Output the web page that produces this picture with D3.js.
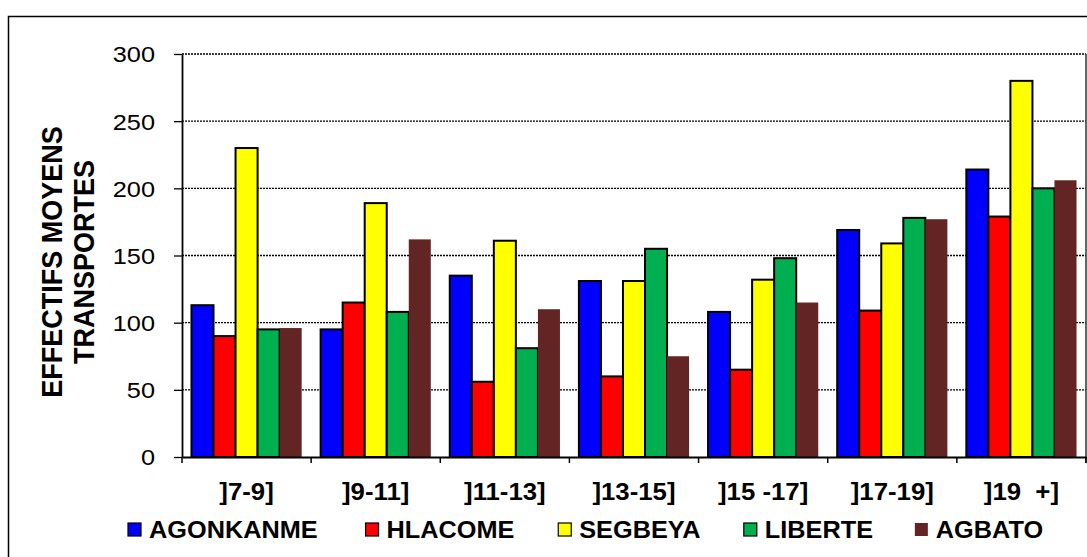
<!DOCTYPE html>
<html>
<head>
<meta charset="utf-8">
<script src="https://cdn.jsdelivr.net/npm/d3@7"></script>
<style>
  html, body { margin: 0; padding: 0; background: #fff; }
  svg { display: block; }
  text { font-family: "Liberation Sans", Arial, sans-serif; fill: #000; }
</style>
</head>
<body>
<svg id="chart" width="1087" height="557"></svg>
<script>
// ---- data ----
const categories = ["]7-9]", "]9-11]", "]11-13]", "]13-15]", "]15 -17]", "]17-19]", "]19  +]"];
const seriesNames = ["AGONKANME", "HLACOME", "SEGBEYA", "LIBERTE", "AGBATO"];
const agonkanme = [113, 95, 135, 131, 108, 169, 214];
const hlacome   = [90, 115, 56, 60, 65, 109, 179];
const segbeya   = [230, 189, 161, 131, 132, 159, 280];
const liberte   = [95, 108, 81, 155, 148, 178, 200];
const agbato    = [96, 162, 110, 75, 115, 177, 206];
const yTicks = [0, 50, 100, 150, 200, 250, 300];
const yTitleLines = ["EFFECTIFS MOYENS", "TRANSPORTES"];
const seriesColors = ["#0000FF", "#FF0000", "#FFFF00", "#00B050", "#632523"];
const seriesStrokes = ["#000", "#000", "#000", "#000", "none"];

const seriesValues = [agonkanme, hlacome, segbeya, liberte, agbato];
const table = categories.map((c, i) => ({
  cat: c,
  vals: seriesNames.map((s, j) => ({ key: s, j, v: seriesValues[j][i] }))
}));

// ---- layout ----
const svg = d3.select("#chart");
const plot = { left: 182, right: 1086, top: 54, bottom: 457 };

function stretch(sel, k) {
  sel.each(function () {
    const w = this.getComputedTextLength();
    d3.select(this).attr("textLength", w * k).attr("lengthAdjust", "spacingAndGlyphs");
  });
}

// outer border
svg.append("rect").attr("x", 8.5).attr("y", 16.5).attr("width", 1100).attr("height", 560)
  .attr("fill", "none").attr("stroke", "#000").attr("stroke-width", 1.5);

const x0 = d3.scaleBand().domain(categories).range([plot.left, plot.right]).padding(0);
const x1 = d3.scaleBand().domain(seriesNames).range([0, x0.bandwidth()]).paddingInner(0).paddingOuter(0.43);
const y = d3.scaleLinear().domain([0, 300]).range([plot.bottom, plot.top]);

// gridlines
svg.append("g").selectAll("line").data(yTicks.filter(t => t > 0)).join("line")
  .attr("x1", plot.left).attr("x2", plot.right)
  .attr("y1", d => y(d)).attr("y2", d => y(d))
  .attr("stroke", "#000").attr("stroke-width", 1.3).attr("stroke-dasharray", "2,1");

// right plot border
svg.append("line").attr("x1", plot.right).attr("x2", plot.right)
  .attr("y1", plot.top).attr("y2", plot.bottom + 6)
  .attr("stroke", "#333").attr("stroke-width", 1.5);

// bars
const groups = svg.append("g").selectAll("g").data(table).join("g")
  .attr("transform", d => `translate(${x0(d.cat)},0)`);
groups.selectAll("rect").data(d => d.vals).join("rect")
  .attr("x", d => x1(d.key))
  .attr("width", x1.bandwidth())
  .attr("y", d => y(d.v))
  .attr("height", d => y(0) - y(d.v))
  .attr("fill", d => seriesColors[d.j])
  .attr("stroke", d => seriesStrokes[d.j])
  .attr("stroke-width", 2);

// y axis
const yAxis = svg.append("g").attr("transform", `translate(${plot.left},0)`)
  .call(d3.axisLeft(y).tickValues(yTicks).tickSize(8).tickSizeOuter(0).tickPadding(19).tickFormat(d3.format("d")));
yAxis.select(".domain").attr("stroke", "#000").attr("stroke-width", 1.8);
yAxis.selectAll(".tick line").attr("stroke", "#000").attr("stroke-width", 1.3);
yAxis.selectAll(".tick text").attr("font-size", 22).attr("font-family", "Liberation Sans, Arial, sans-serif")
  .attr("dy", "0.36em").call(stretch, 1.15);

// x axis
const xAxis = svg.append("g").attr("transform", `translate(0,${plot.bottom})`)
  .call(d3.axisBottom(x0).tickSize(0).tickPadding(0).tickFormat(""));
xAxis.select(".domain").attr("stroke", "#000").attr("stroke-width", 1.8);
xAxis.selectAll(".tick").remove();
const bounds = categories.map(c => x0(c)).concat([x0(categories[categories.length - 1]) + x0.bandwidth()]);
svg.append("g").selectAll("line").data(bounds).join("line")
  .attr("x1", d => d).attr("x2", d => d)
  .attr("y1", plot.bottom).attr("y2", plot.bottom + 6)
  .attr("stroke", "#000").attr("stroke-width", 1.5);
svg.append("g").selectAll("text").data(categories).join("text")
  .attr("x", d => x0(d) + x0.bandwidth() / 2)
  .attr("y", 500)
  .attr("text-anchor", "middle")
  .attr("font-size", 23).attr("font-weight", "bold")
  .style("white-space", "pre")
  .text(d => d)
  .call(stretch, 1.12);

// y title
const yt = svg.append("g");
yTitleLines.forEach((line, i) => {
  yt.append("text")
    .attr("transform", `translate(${62 + i * 32},262) rotate(-90) scale(1,1.1)`)
    .attr("text-anchor", "middle")
    .attr("font-size", 27).attr("font-weight", "bold")
    .text(line);
});

// legend
const legend = svg.append("g");
let lx = 128;
seriesNames.forEach((s, j) => {
  legend.append("rect").attr("x", lx).attr("y", 523).attr("width", 13).attr("height", 13)
    .attr("fill", seriesColors[j]).attr("stroke", j < 4 ? "#000" : "none").attr("stroke-width", 1.2);
  const t = legend.append("text").attr("x", lx + 21).attr("y", 538)
    .attr("font-size", 23).attr("font-weight", "bold").text(s).call(stretch, 1.1);
  lx += 21 + t.node().getComputedTextLength() * 1.1 + 31;
});
</script>
</body>
</html>
